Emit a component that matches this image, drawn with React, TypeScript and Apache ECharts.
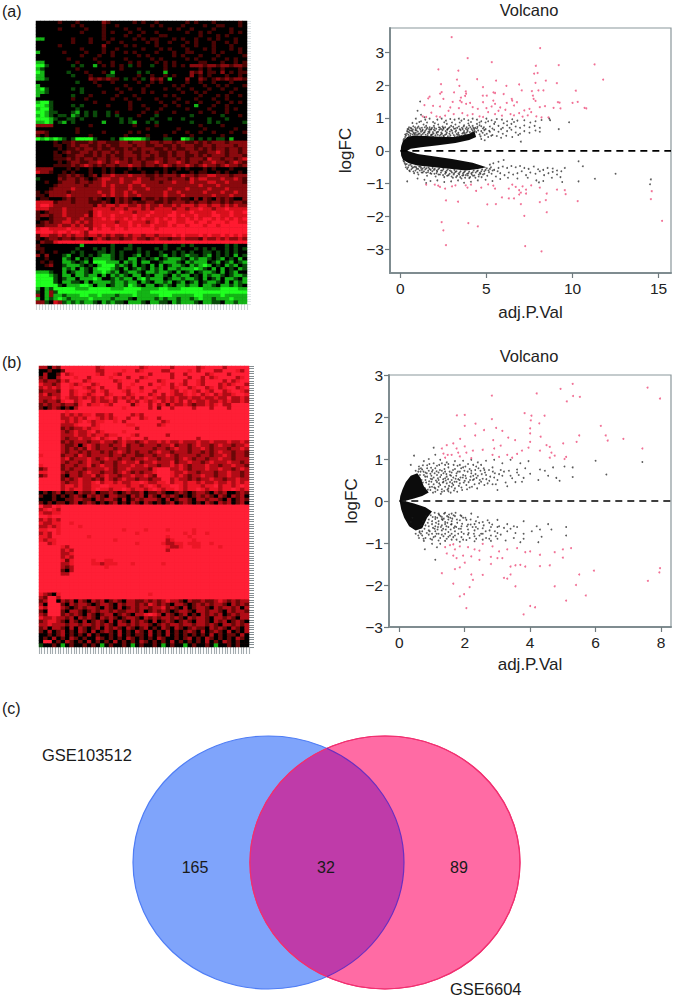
import React, { useEffect, useRef } from "react";
import * as echarts from "echarts";

const FONT = '"Liberation Sans", Arial, sans-serif';
const panelLabels = ["(a)", "(b)", "(c)"];
const volcanoTitle = "Volcano";
const xName = "adj.P.Val";
const yName = "logFC";
const vennNames = ["GSE103512", "GSE6604"];
const vennCounts = [165, 32, 89];

// heat levels: H G g . r R x X
const levelKeys = "HGg.rRxX";
const levelColorsA = ["#20ff20", "#14b416", "#0a4a0a", "#000000", "#4a0404", "#8a0a0e", "#d8101c", "#ff1a30"];
const levelColorsB = ["#20ff20", "#12b014", "#0a4a0a", "#000000", "#6a0808", "#b00c16", "#ec1626", "#ff1f36"];
const HEAT_COLS = 48;

const heatA = [
  ".....r...r.....Rr.....r.r..r......r.r...r.....r.",
  "........r.r....r..r.......r.r....r....r..rr...r.",
  ".....r.....r...r....r..r......r.r..r....r...r...",
  "..........r....r.r...r..r..r......r..r.r....r.r.",
  "...............r....r..r....rr.......r...r.r....",
  "GG......r...r..r.r....r.r.rr...r.r..r..r.r...r..",
  "........r...r...r..r.....r.r..r...r.r...r..r.r..",
  ".....r.........R....r.r....r.....r..r...r...r...",
  "..........r....r..r.....r...r.r...r...r.r...r.r.",
  "G.....r....r...r.r..r.r....r...r..rr....r.r...r.",
  "..........r...r..r.....r.r.....r.r...r...r.....r",
  ".......r.....r......r.....r.r.....r.r...r..r.r..",
  "GG.......r....r..r...r.r...r.r.r.....rr...r..r.r",
  "HHg.....g.g..G.r.r.r.g.r..g..r.r.r.RRRrRRrRRrRRr",
  "Gg.......r.........r.........r.......r.r..r...r.",
  "HG.....g...r...r.G.....g.g...G.....RrR.rr.R.r.rr",
  "GG......g...r...gg.....r..r..r.r...R.r.r...r..r.",
  "GGg.........RrRrRrr.g.r.g.RrR.G...R..Rr.rRrRrRRr",
  ".........g...r...r.....r..r.r.....r..r..r...r...",
  "G.............r.....r....r.....r.r....r..r.r...r",
  "GHg.....g.g.......r..r..r....r..r..r...r..r..r..",
  "GGg.......g....r...r....r.r......r..r.r.....r...",
  "G.......g...r.....r...r......r.r.....r...r.r..r.",
  "........r..r.....r..r..r...r....r...r...r..r....",
  "GHHg.........r.......r......r..r..r..r...r..r.r.",
  "HHGg....g.g.....r....r..r....r..r...G...r..r....",
  "GHHg.....g...........r...r..r.....r....r...r.r..",
  "HHGgg...gG.g.g..g.r.....r..r...r.....r..r..r....",
  "GHGg.gg.Gg.g.g..g.g....r...g.......g......g...r.",
  "HHHGg..gg.g........g.g....g...g..g.....g...g....",
  "GGHG.gG.g......G...g.gG..g.g.......g...g.g.....g",
  "RRRR........r.........r....r.........r....r.....",
  ".........r...............r......r.....r......r..",
  "RRr......r.....r.....r.r.......r..r..r..r...r..r",
  "r.r.........r.......r....r...r.....r......r.....",
  "HGHGHGg.gHHHHg...g.GHHHHGg...gg..HGg.g.g.gg.G...",
  "....r.rrRrrrRrRRrrrRRrRRRrRRrRRrRRrrRrRrRRRrRRRR",
  "....rr.rRrRRrrRrRrrRRRrRRrrRRrrRrRRRrrRRrRRRRrRR",
  ".....r.rrRrRRrRrrRrrRrRrRRRrrRrRrrRRrRrRrRRrRRrR",
  "....r.rRrrRRrRrRRrRrRRrrRrRRrrRrRRrRRrrRRxRrRRrR",
  "....rr.rrRRrrRrRrRrrRRRrRRrRrrRrRRrrRrRrRRRrRRRr",
  "....rrrRrRrRRrRRrRRrRrRrRrrRRrRRrRrRRRrxRRrRRrRx",
  ".....r.rRRrrRRxRrRxRRrRRrRRxRrRRxRrRRrRRxRRrRxRr",
  "....rrrrRrRxRrRrRRrRRxRRrRRrRxRrRRxRrRxRRrRxRRrR",
  "RRRR...r.r..r..r.r...r.r.....r..r.r...r.r...r...",
  "xRRr..r.r...r..r.r..r...r..r.r.r...r.rr..r.r..r.",
  ".....rrRrRr.rR.RRxRRRxRRRrrRrRRRrxRRrRRxxRRRrRRR",
  "g....RrRRrRr.rRxxRRxRRRxRRrRRRrRRRrxRxxRRRxRRxRr",
  "..r..rRRRrRRrRRxRRRxRRxxRRRRrRRxRRRxRRRxxRRxRRRr",
  "....rRRRRRRrRRRxRxRRRxRRxRRRRRRRRRRRRxRRRxRRRRRR",
  "...rRRRRxRRRRRRRRxRRRxRRRxRRRRxRRRxRRRRxRRRxRRRR",
  "r.rRRRRrRRRRRRxRRxRRxRxRRRRRRxRRxRRRRRxRRRxRRxRR",
  "rr.RRRRxRRRRRRRxRxRRxRRxRRRRRxRRRxRRRRRRxRRRxRRR",
  ".rr...rRrRRRrRr.r.RrRr..RrrRrRrrRrr.R.Rr.RrRr..R",
  "xxxxrRRRrRRRrrrRr.RrRrRrrRRrrRrRRRrRrRRrRRrRrRRr",
  "xXXxRRRRRRRRRrxRxxRxxRRxRxRRxRRxRxxxRxxRxxRxRxRR",
  "xxxRRRxRRRRRRxxxxRxxRxxxRxRxxxxRxxRxxXxxRxxXxxxx",
  "r.rRRRxRRRRRrxXxxxxXxxRxxxXxxxxXxxxXxxxxXxxxXxxX",
  "rRRrRRxRRRRxrxXxxXxxxxXxxXxxxxXXxXxxXxxxXXxxXxxx",
  "r..rRRRxRRxRRxxXxXxxXxXxXxxXxXxXxxXxXxXXxXxXxXxX",
  ".rRrRRxxRxRxRxxxxxRxxXxxxRxXxxXXxxXXxXXxXXXxXXxx",
  "rrRRRxRRxRxRRxxXxxXxxXxXxxXxxxXxXXxXXXxXXxXXXXXX",
  "xXXxxxxXxxxXRXxXXxXXxXXXXXXxXXXXXXXXXXXXXXXXXXXX",
  "XXXXxXXxXXxRXXXXXXXXXXXXXXXXXXXXXXXXXXXXXXXXXXXX",
  "rxxRRxRxRxxRxxRxRxRRxRxxRxxRxxxXxXxxxXxXxxXxXxXx",
  "r.rRRrRRrRRr.RxRrRRrRRxRRrRxRRrRRxRRRrxRRxRxRRxR",
  ".RrrxXXXXXXXXXXXXXXXXXXXXXXXXXXXXXXXXXXXXXXXXXXX",
  "r.........G......g...g.......g...g.g.......g.g..",
  "rr.......g...g.g.g..gg.g...g.g..g...g.g.g..g.g.g",
  ".r..r...g.g...gg.g.g...g.g..g..g.g.g..gg.g.g.g..",
  "R.R...gG..g.g.gGGg.g..gG.g..gG.g.gGgg.gG.g.g.G.g",
  "..r...Gg.G.g.GGGGg.g.GG.g.gG.gGGGg.GgGGg.gG.g.G.",
  ".r.r..GGg.gG.HHHGGG.GgG.GG..gGGGg.GgGGG.gG.gG.gG",
  "..rR..gGGGg.g.GHHHgGg.G.g.G.G.gGGg.GgGHG.g.GgG.g",
  "......GgG.Gg.GHHHGg.G.gGg.GgG.GGgGGGHGg.G.G.g.Gg",
  "GGGg..G.gGGg.GGHGgG.gGGg.GGgGGg.G.gG.gGGg.G.gG..",
  "HHHGg.GG.GGgGG.G.GgGg.GG.g.GGg.GgGG.g.GgGGg.gGGg",
  "HHHHg.gGG.GGGHG..gGgGG.GHgGGG.gGGgGGg.G.gG.GGg.G",
  "HHHHg.GGgg.G.GGGGgGGgGG.Gg.GGgG.gG.gG.gGGg.G.GgG",
  "HHHHHg.GGGHHG.GG.gGGgHGg.GG.gGg.GGgGG.GGg.GGgGg.",
  "G.GgHHHHHGGGHHHHHGGGHHHHGGGGHHGGGHHHHHGGGGHHHHGG",
  "g.GRgHHHHHHHHHHHHHHHHHHGGGHHHHHHHHHHHHHHHHHHHHHH",
  "R.GRGGgGGGHHGGHGGGgGGGHGGGGGHHHGGGGGHHGGGGHGGGGG",
  "G.GgGHGgGGGGHGGGGgGGGg.GGGGgGgGGgGGgGHGGgGGGHGGG",
  "RRg.xRgGgGgGGg.GgGgg.GGGg.GGgg.GgGGGg.GGgg.GGgGG",
];

const heatB = [
  "RR.RrXXXXXXXXRxXXXXXXXXRxXXXXXRXXXXXRxXXXXRXXXXX",
  "..r..rXXXXXXXRRXXXXxXXRxXXXXRRXXXXxXRXXXRRXXXxRX",
  ".R..rXRxXXXXXxRXXxRXXXXXXRXXXXRXXRXXXXRxXXXRXXXX",
  "rR..RXXXxXXRXXXXxXXXRXXRxXXXXXRXXXRXXRXRxXXXXRxX",
  "RrRRrxRXXXRxXXXXXRxXXXRXXXXRxXXXXRXXxRXXXXRXRxXX",
  "xRRrRXXxRxXXRxXXXXRXXxXXXRXXxXRXxRXXxRXXXRxRxXXR",
  "RxRxRXXxXXxRxXRXXXRXxXXRXXXxXXRxXXRxXXRxXRxXXRxX",
  "rRRRrXXRxXXxRXxRXXXxRXXxXXRXXXxRXxXxRXxRXXRxXXxR",
  "RxrRRXXRxXxRxXXRxXXXRxXXXRxXRXxRRxXxXRxXRxRRxXXx",
  "RRRxRXxRRxRxRxRxXRxRxRXRxXxRRxRxRRxRRxRRxRRXRRxR",
  "RrRRrxXXRxXXRxRRxRXXRxRXxRxXRxRxRXRxRRxRRxRxRRxR",
  "rRrRRrRRrxXRxxXxRXXXXrxXXRXRxrxRRxRrRRxRxXRRXXXX",
  "r.rRr.r.RXXXXXXXXXXxXXXXXRXrXXRXXXXRXXXRXXXRXXXX",
  "XXXXXXxXXXXXXXXXXXXXXXXXXXXXXXXXXXXXXXXXXXXXXXXX",
  "XXXXXRxRxRxxXRRxRXXXXRxRXXXXXXXXXXXXXXXXXXXXXXXX",
  "XXXXXRRxRxRXXxRxRxXXRXXRxXXRXXXXXXXXXXXXXXXXXXXX",
  "XXXXXxRxRxXxRxxXXxXRXXXXXXXXRxXXXXXXXXXXXXXXXXXX",
  "XXXXXRRRxXXXRxXXXXXXxxXXXXXRxXXXXXXXXXXXXXXXXXXX",
  "XXXXXrRrRRxRxxXXXXXXXXRXXXXXXXXXXXXXXXXXXXXXXXXX",
  "XXXXXRrRxRRxXRxXXXXxXXXXXXXXXXXXXXXXXXXXXXXXXXXX",
  "XXXXXRRRxRRxRxxRxxXXXxRXXXXXXRXXXXXXXXXXXXXXXXXX",
  "XXXXXRrRRxRRxXRxXXRXxXXXRXXXXXXXXXXXRXXXXXXXXXXX",
  "XXXXXrRrRRRrRRxRRrRxRRrRxRRxRxRRxRRRxRRxRRRxRRxR",
  "XXXXXRrrR.RxRrRRrRRxrRRrRRRrRRxrRRrRxRRrRxRRrRRx",
  "XXXXXRrRrRrxRrRRRrRRrRRRRRrRRrRxRRrRRxRrRRRrRRxR",
  "XXXXXRrRRrRrRRrRrRxRrRrRRrRxRRrRRRrRRrRrRxRRrRRr",
  "xXXXXrRRrxRrRRRRrRRrRRrrRRrRRxRrRRRRrRRrRRxRrRRr",
  "XXXXXRxrRRRxRrRxRRrRRrRRxRRrRRRrRxRrRRrRRxRRrRRR",
  "XXXXXRrRRrRxRRrRRrRxRRxrRRxRRRxrRRxRRrRxRRRxRRrR",
  "xXXXXrRRrRRxrRxRRrRRRxRRxRRrRRxRxRrRRRxRRrRRxRRr",
  "rRXXXrRrRRrRRRRxRrRRxRRRRrxXXXRRxRrRRRxRRxRRrRxR",
  "xxXXXRrRRrRxRRrRRrRxRrRrRRxXXXxRRxRRrRRRrRRxRRrR",
  "rRXXXr.RRrRRxrRxRRrRRxRRxRrXXXxRxRrRRxRRrRRxRRrR",
  "XXXXXrRrRxRRrRrxRrRxRRrRRrRRXXRxRRrRrRRxRRrRRxRR",
  "XXXXXRrRRxRRxXRxxRxRRxxXxRRxxXRxxRxxRxRRxRRxRxRx",
  "XXXXXRxxRxRRxxXXxxxxRxxRxXxRxxXXxRxxxRxxXRxxRxXx",
  "XXXXXRxRxxRRxXxxRxxXxRxxRxXxRxxXxRxxXxRxxRxxXxRx",
  ".r.rR.rr.RrrR.rrRr.rRrrR.rrRr..rRr.rRRr.RrR..rRr",
  "r..r.r.rRr.RrRr.RRrr.RrR.Rr.RrRr.r.rRrRr.Rr.RrR.",
  "...r..rrRRrr.RrRRr.R.rRrRRRr.R.rRRr.RRrRRr.R.rRr",
  "r.r.rr.rR.rRr.r.rR.r.Rr.Rr.r.rR.rRr.r.Rr.RrR.rR.",
  "XRRXxXXXXXXXXXXXXXXXXXXXXXXXXXXXXXXXXXXXXXXXXXXX",
  "RxXxRXXXXXXXXXXXXXXXXXXXXXXXXXXXXXXXXXXXXXXXXXXX",
  "xRRxxXXXXXXXXXXXXXXXXXXXXXXXXXXXXXXXXXXXXXXXXXXX",
  "XXxXXXXXXXXXXXXXXXXXXXXXXXXXXXXXXXXXXXXXXXXXXXXX",
  "RxRxRXXXXXXXXXXXXXXXXXXXXXXXXXXXXXXXXXXXXXXXXXXX",
  "xRRxxXXxXXXXXXXXXXXXXXXXXXXXXXXXXXXXXXXXXXXXXXXX",
  "RRxRxXXXXxXXXXXXXXXXXXXXXXXXXXXXXXXXXXXXXXXXXXXX",
  "xxXXxXXXXXXXXXXXXXXxXXXXxXXXXxXXXXXxXXXXXXXXXXXX",
  "RxRXxXXXXXXXXXXXXXXXXXxXXXXXXXXXXxXxXXxXXXXXXXXX",
  "xxRXXXXXXXXxXXXXXXXXXXXXXXXXXxXXXXxXXXXXXXXXXXXX",
  "xRxxXXXXXXXXXXXXXxXXXXXXXXXXXRxXXXXxXXXXXXXXXXXX",
  "XXRxXXXXXXXXXXXXXXXXXXxXXXXXxRRxxXxxxXXxXXXXXXXX",
  "XXXXXxRXXXXXXXXXXXXXXXXXXXXXXxRRxXXxxXXXXxXXXXXX",
  "XXXXXRxRXXXXXXXXXXXXXXXXXXXXXRXXXXXXXXXXXXXXXXXX",
  "XXXXXRRxXXXXXXXXXXXXXXXXXXXXXXXXXXXXXXXXXXXXXXXX",
  "XXXXXRxRXXXXXXXXXXXXXXXXXXXXXXXXXXXXXXXXXXXXXXXX",
  "XXXXXxrxXXXXxXXxxXXXXXXXXXXXXXXXXXXXXXXXXXXXXXXX",
  "XXXXXRRxXXXXxxRxxxXXXxXXXXXXxXXXXXXXXXXXXXXXXXXX",
  "XXXXXRrRXXXXXXXxXXXXXXXXXXXXXXXXXXXXXXXXXXXXXXXX",
  "XXXXXr.RXXXXXXXXXXXXXXXXXXXXXXXXXXXXXXXXXXXXXXXX",
  "XXXXXRRXXXXXXXXXXXXXXXXXXXXXXXXXXXXXXXXXXXXXXXXX",
  "XXXXXXXXXXXXXXXXXXXXXXXXXXXXXXXXXXXXXXXXXXXXXXXX",
  "XXXXXXXXXXXXXXXXXXXXXXXXXXXXXXXXXXXXXXXXXXXXXXXX",
  "XXXXXXXXXXXXXXXXXXXXXXXXXXXXXXXXXXXXXXXXXXXXXXXX",
  "XXXXXXXXXXXXXXXXXXXXXXXXXXXXXXXXXXXXXXXXXXXXXXXX",
  "XXXXXXXXXXXXXXXXXXXXXXXXXXXXXXXXXXXXXXXXXXXXXXXX",
  "xRr.xXXXXXXXXXXXXXXXXXXXXxXXXXXXXXXXXXXXXXXXXXXX",
  "RrXXRXXXXXXXXXXXXXXXXXXXXXXXXXXXXXXXXXXXXXXXXXXX",
  "rRXX.RrR.Rr.RrR.rRr.RRrrRrRrRxRRr.RrrRrrRxRrRrRR",
  "R.XXXr.RrRRr.rRRr.RrRRrRrxRrRr.RRr.rRrRrRRr.RrRr",
  "xRXXXRr.rRrRRr.Rr.R.rRrRRrRRxrRr.R.rRRr.RrRRrR.R",
  "r.XXXr.RRr.rRrRRrRrrRRrR.rRrRr.rRRr.RRrRRr.RrRRr",
  "RrXXXrRrRr.Rr.rRR.rRr.RRxXxR.Rr.rR.r.RrRrR.rRrRR",
  "xRRxRRrR.RrRr.RrRr.rRRr.RrRrRRrRr.RrRRr.RRrRr.RR",
  "rRxxRr.Rr.R.rRr.R.Rr.RrRr.R.rRr.rRr.RRr.RrR.rRr.",
  "RRxRRRrRRrRRrRrRr.RRrRrRRr.rRrRRrRRrRRrRr.RRrRrR",
  "rR.RRr.R.Rr.rR.RrRr.Rr.rR.r.Rr.Rr.rRrr.RrRr.Rr.R",
  "r.R.rR.r.Rr.R.rRr.R.r.Rr.R.r.R.r.rRr.R.rRr.R.r.R",
  "..r.rR.r.r.R.r..r.R.r.rr.R.r.R.r.r.r.r.R.r.rr.R.",
  ".r.R.r.Rr.r..Rr.r.r.Rr.r.r.Rr..r.rR.r.Rr.r.r.Rr.",
  ".XX.r.Rr.r.R.r.r.R.r.r.Rr.r.r.R.r.r.r.R.r.Rr.r..",
  "g..r.G.r..r.r.G.r..r.G.r..r.G.r..G.r..r.G..r.r..",
];

const sampleTicksA = Array.from("abcdefghijklmnopqrstuvwxyzabcdefghijklmnopqrstuvwxyzabcdefghijklmnopqr");
const sampleTicksB = Array.from("abcdefghijklmnopqrstuvwxyzabcdefghijklmnopqrstuvwxyzabcdefghijklmnopqrstuvwxyz");
const geneTicks = Array.from("abcdefghijklmnopqrstuvwxyzabcdefghijklmnopqrstuvwxyzabcdefghijklmnopqrstuvwxyzabcdefghijklmnopqrstuvwxyzabcdefghij");

const xTicksA = [0, 5, 10, 15];
const yTicksA = [-3, -2, -1, 0, 1, 2, 3];
const xTicksB = [0, 2, 4, 6, 8];
const yTicksB = [-3, -2, -1, 0, 1, 2, 3];

const coreUpA = [[0.02,0],[0.05,0.15],[0.15,0.3],[0.4,0.42],[0.8,0.47],[1.5,0.45],[2.5,0.42],[3.2,0.42],[4,0.52],[4.3,0.6],[4.4,0.42],[4,0.33],[3.2,0.24],[2.2,0.17],[1.2,0.11],[0.6,0.06],[0.4,0]];
const coreDownA = [[0.02,0],[0.05,-0.15],[0.15,-0.27],[0.5,-0.38],[1,-0.45],[2,-0.5],[3,-0.55],[3.8,-0.6],[4.5,-0.55],[5,-0.5],[4.2,-0.36],[3,-0.25],[2,-0.17],[1,-0.1],[0.4,0]];
const coreUpB = [[0.01,0],[0.03,0.12],[0.1,0.28],[0.2,0.45],[0.35,0.6],[0.55,0.66],[0.65,0.55],[0.75,0.35],[0.9,0.2],[0.7,0.12],[0.45,0.06],[0.25,0.02]];
const coreDownB = [[0.01,0],[0.06,-0.2],[0.15,-0.4],[0.3,-0.6],[0.5,-0.7],[0.7,-0.65],[0.85,-0.4],[1,-0.25],[0.8,-0.15],[0.45,-0.06],[0.25,-0.02]];

const redA = [[2.98,3.46],[8.12,3.13],[3.91,2.82],[5.31,2.7],[7.87,2.59],[9.2,2.61],[11.28,2.63],[2.21,2.48],[3.37,2.44],[7.77,2.35],[7.97,2.37],[11.78,2.17],[3.29,2.17],[4.46,2.18],[5.56,2.14],[8.45,2.14],[2.36,2.03],[6.9,2.02],[7.85,2.07],[9.09,2.06],[3.43,1.98],[6.16,1.98],[4.8,1.94],[10.19,1.83],[7.05,1.84],[7.64,1.82],[8.02,1.84],[8.31,1.84],[2.4,1.79],[2.31,1.74],[3.12,1.78],[3.8,1.81],[3.82,1.74],[3.76,1.67],[3.52,1.62],[5.41,1.78],[5.5,1.76],[6,1.73],[5.02,1.68],[4.79,1.68],[1.7,1.65],[1.62,1.6],[2.5,1.58],[3.47,1.53],[6.47,1.58],[6.5,1.53],[7.7,1.68],[7.74,1.58],[7.85,1.52],[9.15,1.48],[9.25,1.47],[10,1.46],[10.3,1.49],[3.04,1.49],[3.56,1.48],[3.82,1.43],[4.05,1.46],[4.8,1.48],[5.4,1.53],[5.5,1.43],[6.18,1.46],[6.77,1.48],[1.4,1.39],[1.9,1.37],[2.3,1.35],[2.9,1.32],[3.4,1.3],[4.2,1.33],[4.5,1.28],[5,1.3],[5.3,1.35],[5.8,1.32],[6.1,1.25],[6.6,1.38],[7.2,1.23],[7.5,1.28],[8.1,1.33],[8.4,1.36],[8.9,1.31],[9.3,1.29],[10.7,1.31],[10.8,1.29],[1.3,1.05],[1.5,1.03],[1.8,1.16],[2.1,1.05],[2.3,1.03],[2.6,1.07],[2.8,1.22],[3.1,1.12],[3.6,1.15],[3.9,1.08],[4.2,1.12],[4.6,1.05],[4.8,1.03],[5.1,1.18],[5.5,1.12],[5.7,1.22],[5.9,1.07],[6.4,1.12],[6.6,1.08],[6.9,1.15],[7.1,1.04],[7.4,1.08],[7.6,1.18],[7.9,1.05],[8.2,1.02],[8.6,1.02],[1.5,-1.03],[2,-1.03],[2.2,-1.06],[2.3,-1.1],[2.6,-1.15],[3,-1.08],[3.2,-1.05],[3.8,-1.05],[3.9,-1.12],[4.1,-1.03],[4.4,-1.22],[4.7,-1.12],[5.1,-1.02],[5.4,-1.06],[5.5,-1.15],[6.3,-1.15],[6.5,-1.03],[6.7,-1.1],[6.9,-1.2],[7.1,-1.08],[7.3,-1.18],[7.6,-1.05],[7,-1.27],[5.9,-1.42],[6.3,-1.45],[6.6,-1.45],[6.9,-1.33],[7.3,-1.3],[8.1,-1.12],[8.5,-1.3],[9.1,-1.18],[9.55,-1.2],[9.6,-1.32],[8.1,-1.56],[8.45,-1.5],[10.3,-1.53],[14.6,-1.23],[14.55,-1.47],[2.65,-1.51],[3.35,-1.55],[5.05,-1.63],[5.55,-1.62],[7,-1.62],[8.5,-1.87],[7.2,-1.98],[2.4,-2.17],[3.95,-2.2],[4.5,-2.3],[2.5,-2.42],[2.65,-2.87],[7.25,-2.9],[8.2,-3.06],[15.2,-2.13]];

const blackA = [[1.15,1.5],[1,1.22],[1.2,1.1],[1.4,1.02],[0.9,0.98],[0.7,0.85],[0.95,0.83],[1.2,0.9],[1.45,0.95],[1.7,0.98],[1.9,0.88],[2.15,0.95],[2.4,0.98],[2.65,0.92],[2.9,0.97],[3.15,0.95],[3.4,0.98],[3.7,0.97],[3.95,0.93],[4.2,0.98],[4.45,0.95],[4.7,0.9],[5,0.98],[5.3,0.93],[5.6,0.97],[5.9,0.95],[6.2,0.9],[6.5,0.96],[6.8,0.92],[7.2,0.93],[7.55,0.86],[7.85,0.9],[8.2,0.94],[8.65,0.98],[8.7,0.93],[9.8,0.87],[9.2,0.66],[0.5,0.72],[0.65,0.68],[0.85,0.72],[1.05,0.74],[1.25,0.7],[1.5,0.76],[1.7,0.72],[1.95,0.76],[2.2,0.8],[2.45,0.74],[2.7,0.82],[2.95,0.76],[3.2,0.8],[3.45,0.86],[3.7,0.78],[3.95,0.83],[4.2,0.76],[4.45,0.82],[4.7,0.75],[4.95,0.86],[5.2,0.74],[5.45,0.82],[5.7,0.76],[5.95,0.7],[6.2,0.78],[6.45,0.82],[6.7,0.74],[6.95,0.7],[7.2,0.77],[7.5,0.72],[7.8,0.76],[8.1,0.7],[0.45,0.58],[0.7,0.6],[0.95,0.62],[1.2,0.58],[1.45,0.62],[1.7,0.6],[1.95,0.64],[2.2,0.58],[2.45,0.63],[2.7,0.56],[2.95,0.64],[3.2,0.58],[3.45,0.66],[3.7,0.6],[3.95,0.68],[4.2,0.62],[4.45,0.68],[4.7,0.6],[4.95,0.66],[5.2,0.58],[5.45,0.64],[5.7,0.58],[5.95,0.52],[6.2,0.6],[6.45,0.64],[6.7,0.56],[6.95,0.52],[7.2,0.6],[7.5,0.55],[7.85,0.62],[8.1,0.58],[0.6,0.52],[0.9,0.55],[1.3,0.51],[1.6,0.53],[1.85,0.5],[2.1,0.54],[2.35,0.5],[2.6,0.49],[2.85,0.52],[3.1,0.48],[3.35,0.5],[3.6,0.53],[3.85,0.56],[4.6,0.5],[4.9,0.48],[5.1,0.42],[5.35,0.48],[5.6,0.45],[5.85,0.4],[6.15,0.46],[6.5,0.42],[6.85,0.48],[7,0.28],[1.1,0.88],[1.55,0.86],[2,0.84],[2.55,0.87],[3,0.86],[3.55,0.92],[4.1,0.88],[4.6,0.86],[5.1,0.9],[5.5,0.88],[6,0.84],[6.6,0.88],[0.75,0.75],[1.35,0.8],[1.8,0.66],[2.3,0.7],[2.8,0.69],[3.3,0.7],[3.85,0.72],[4.35,0.7],[4.85,0.72],[5.35,0.68],[5.85,0.66],[6.35,0.7],[0.28,0.5],[0.38,0.53],[0.55,0.62],[0.42,0.66],[0.85,0.5],[1.05,0.51],[1.8,0.49],[2.5,0.46],[4.7,0.36],[4.9,0.32],[0.4,-0.93],[0.55,-0.62],[0.8,-0.68],[1.05,-0.72],[1.3,-0.66],[1.5,-0.98],[1.55,-0.76],[1.8,-0.7],[2.05,-0.78],[2.3,-0.72],[2.55,-0.8],[2.8,-0.74],[3.05,-0.82],[3.3,-0.76],[3.55,-0.84],[3.8,-0.74],[4.05,-0.8],[4.3,-0.75],[4.55,-0.78],[4.8,-0.72],[5.05,-0.76],[5.3,-0.7],[5.55,-0.78],[5.8,-0.68],[6.05,-0.74],[6.3,-0.66],[6.55,-0.72],[6.8,-0.68],[7.05,-0.62],[7.3,-0.74],[7.55,-0.66],[7.85,-0.7],[8.1,-0.62],[8.35,-0.74],[8.6,-0.68],[8.85,-0.64],[9.1,-0.72],[9.35,-0.62],[9.55,-0.52],[0.7,-0.52],[0.95,-0.55],[1.2,-0.52],[1.45,-0.56],[1.7,-0.55],[1.95,-0.58],[2.2,-0.56],[2.45,-0.6],[2.7,-0.6],[2.95,-0.62],[3.2,-0.64],[3.45,-0.66],[3.7,-0.65],[3.95,-0.68],[4.2,-0.65],[4.45,-0.62],[4.7,-0.62],[4.95,-0.58],[5.2,-0.55],[5.45,-0.58],[5.7,-0.52],[5.95,-0.48],[6.2,-0.52],[6.45,-0.46],[6.7,-0.5],[6.95,-0.46],[7.2,-0.52],[7.45,-0.55],[7.75,-0.48],[8,-0.56],[8.3,-0.58],[8.55,-0.52],[8.85,-0.54],[9.1,-0.6],[1,-0.84],[1.4,-0.88],[1.75,-0.92],[2.15,-0.9],[2.55,-0.95],[2.95,-0.93],[3.35,-0.9],[3.7,-0.97],[4.1,-0.94],[4.5,-0.9],[4.95,-0.88],[5.35,-0.92],[5.8,-0.86],[6.25,-0.82],[6.8,-0.84],[7.4,-0.82],[7.9,-0.9],[8.05,-0.96],[8.3,-0.92],[8.8,-0.82],[9.3,-0.8],[9.4,-0.95],[10.35,-0.32],[10.6,-0.47],[10.35,-0.93],[11.3,-0.85],[12.5,-0.7],[14.55,-0.87],[14.5,-1.02],[1.25,-0.58],[1.6,-0.65],[2.1,-0.68],[2.6,-0.7],[3.1,-0.72],[3.6,-0.75],[4.15,-0.72],[4.65,-0.7],[5.15,-0.65],[5.65,-0.62],[0.3,-0.42],[0.45,-0.5],[0.6,-0.42],[0.85,-0.48],[1.1,-0.48],[5.2,-0.42],[5.4,-0.38],[5.7,-0.33],[6,-0.28]];

const denseA = [[0.33,0.47],[0.47,0.49],[0.58,0.46],[0.72,0.5],[0.81,0.53],[0.97,0.49],[1.12,0.53],[1.21,0.48],[1.36,0.55],[1.47,0.49],[1.58,0.47],[1.69,0.55],[1.78,0.47],[1.93,0.53],[2.04,0.47],[2.17,0.49],[2.29,0.46],[2.42,0.52],[2.53,0.44],[2.67,0.51],[2.76,0.44],[2.91,0.47],[3.03,0.54],[3.16,0.44],[3.27,0.51],[3.42,0.47],[3.54,0.46],[3.66,0.55],[3.78,0.5],[3.91,0.6],[4.04,0.57],[4.18,0.56],[4.29,0.66],[4.41,0.57],[4.52,0.62],[4.66,0.44],[4.78,0.55],[4.88,0.63],[5.02,0.52],[5.16,0.61],[5.28,0.46],[0.39,0.6],[0.52,0.56],[0.63,0.62],[0.77,0.56],[0.88,0.63],[1.02,0.58],[1.16,0.64],[1.27,0.61],[1.41,0.57],[1.52,0.66],[1.63,0.58],[1.76,0.65],[1.89,0.57],[2.01,0.62],[2.13,0.57],[2.26,0.64],[2.38,0.56],[2.51,0.67],[2.63,0.6],[2.74,0.66],[2.88,0.59],[3,0.61],[3.12,0.67],[3.24,0.62],[3.37,0.55],[3.5,0.63],[3.62,0.66],[3.73,0.54],[3.88,0.64],[4.07,0.72],[4.14,0.66],[4.32,0.6],[4.48,0.73],[0.48,0.66],[0.6,0.7],[0.73,0.65],[0.9,0.67],[1,0.7],[1.13,0.69],[1.3,0.64],[1.42,0.72],[1.56,0.7],[1.67,0.66],[1.84,0.7],[1.98,0.7],[2.08,0.67],[2.24,0.72],[2.36,0.66],[2.49,0.7],[2.6,0.72],[2.72,0.64],[2.86,0.72],[3.07,0.73],[3.2,0.68],[3.4,0.74],[3.58,0.7],[3.68,0.74],[3.8,0.67],[4,0.77],[4.24,0.7],[4.6,0.78],[4.8,0.68],[0.35,0.36],[0.5,0.43],[0.28,0.42],[0.22,0.37],[0.18,0.33],[1.9,0.43],[2.4,0.41],[2.85,0.41],[3.3,0.44],[3.7,0.47],[0.37,-0.4],[0.5,-0.44],[0.66,-0.47],[0.78,-0.5],[0.92,-0.5],[1.03,-0.55],[1.17,-0.48],[1.3,-0.54],[1.4,-0.5],[1.52,-0.53],[1.64,-0.51],[1.76,-0.58],[1.87,-0.52],[2,-0.55],[2.12,-0.6],[2.26,-0.53],[2.37,-0.6],[2.5,-0.55],[2.62,-0.64],[2.76,-0.56],[2.88,-0.6],[3,-0.66],[3.14,-0.58],[3.26,-0.62],[3.38,-0.69],[3.5,-0.62],[3.64,-0.68],[3.75,-0.62],[3.88,-0.7],[4,-0.63],[4.12,-0.68],[4.26,-0.6],[4.38,-0.66],[4.5,-0.6],[4.62,-0.67],[4.75,-0.57],[4.88,-0.62],[5.02,-0.53],[5.12,-0.6],[5.26,-0.5],[5.36,-0.6],[0.4,-0.55],[0.52,-0.6],[0.64,-0.56],[0.76,-0.63],[0.88,-0.6],[1,-0.66],[1.13,-0.6],[1.24,-0.66],[1.37,-0.62],[1.5,-0.67],[1.62,-0.6],[1.74,-0.68],[1.86,-0.62],[1.98,-0.7],[2.14,-0.63],[2.22,-0.72],[2.36,-0.66],[2.48,-0.74],[2.66,-0.66],[2.72,-0.76],[2.86,-0.7],[2.98,-0.78],[3.12,-0.68],[3.24,-0.8],[3.42,-0.72],[3.48,-0.8],[3.66,-0.74],[3.76,-0.82],[3.92,-0.75],[4,-0.83],[4.22,-0.76],[4.36,-0.82],[4.56,-0.72],[4.72,-0.8],[4.88,-0.7],[0.32,-0.5],[0.22,-0.33],[0.26,-0.38],[0.18,-0.3]];

const redB = [[2.83,2.51],[4.2,2.56],[4.93,2.67],[5.3,2.79],[5.12,2.37],[5.31,2.5],[5.52,2.48],[7.59,2.7],[7.97,2.44],[1.76,2.04],[2,2.05],[3.83,2.09],[4.04,2.03],[4.44,2.03],[2.83,1.95],[4.02,1.92],[4.28,1.85],[2.33,1.84],[2,1.79],[6.16,1.79],[4,1.73],[2.96,1.74],[2.59,1.69],[3.15,1.67],[4,1.61],[6.31,1.56],[5.5,1.56],[4.32,1.53],[2.32,1.56],[1.86,1.48],[3.33,1.51],[3.54,1.45],[6.85,1.48],[6.37,1.44],[5.42,1.41],[5.01,1.37],[1.65,1.37],[2.87,1.45],[4,1.41],[4.5,1.33],[4.6,1.29],[7.43,1.25],[1.3,1.25],[1.45,1.33],[1.75,1.25],[2,1.3],[2.25,1.2],[2.55,1.22],[2.9,1.25],[3.1,1.32],[3.75,1.2],[3.95,1.27],[4.3,1.2],[4.65,1.15],[4.75,1.08],[4.6,1.03],[5.1,1.05],[5.05,1],[1.35,1.13],[1.48,1.1],[1.6,1.1],[1.85,1.06],[2.05,1.15],[2.2,1.02],[2.85,1.1],[3.05,1.05],[3.3,1.1],[3.45,1.03],[3.6,1.12],[1.4,1.03],[1.8,1.15],[1.4,-1.1],[1.55,-1.05],[1.65,-1.03],[1.7,-1.15],[1.85,-1.08],[2.1,-1.1],[2.3,-1.15],[2.45,-1.18],[2.55,-1.02],[2.85,-1.08],[3.05,-1.2],[3.3,-1.15],[3.6,-1.12],[3.85,-1.22],[4,-1.2],[4.3,-1.28],[4.75,-1.22],[5,-1.15],[5.25,-1.12],[1.45,-1.25],[1.65,-1.3],[1.75,-1.36],[1.95,-1.3],[2.2,-1.32],[2.45,-1.4],[2.8,-1.33],[3,-1.36],[3.15,-1.36],[3.4,-1.56],[3.55,-1.53],[3.7,-1.52],[3.85,-1.56],[4.3,-1.55],[4.6,-1.53],[5,-1.35],[2,-1.47],[2.8,-1.5],[1.7,-1.62],[1.85,-1.58],[1.3,-1.72],[2.2,-1.75],[2.55,-1.76],[3.2,-1.83],[3.3,-1.85],[3.4,-1.75],[1.65,-1.97],[2.25,-1.88],[2.15,-2.05],[3.55,-2.03],[4.75,-2.03],[5.4,-2],[5.95,-1.66],[5.5,-1.75],[7.6,-1.9],[7.97,-1.6],[7.95,-1.7],[1.85,-2.27],[1.98,-2.22],[2.05,-2.55],[5.7,-2.25],[5.1,-2.37],[4,-2.5],[4.15,-2.53],[3.8,-2.7]];

const blackB = [[0.45,1.08],[1.05,1.27],[1.1,1.1],[0.9,1],[0.75,0.95],[0.35,0.86],[0.6,0.82],[0.85,0.85],[1.05,0.9],[1.25,0.98],[1.45,0.92],[1.7,0.95],[1.95,0.96],[2.2,0.98],[2.4,0.92],[2.65,0.96],[2.9,0.98],[3.15,0.9],[3.4,0.98],[3.7,0.9],[3.95,0.95],[4.3,0.75],[4.45,0.72],[4.7,0.8],[5.05,0.82],[5.3,0.8],[6,0.96],[7.43,0.93],[6.33,0.63],[0.5,0.72],[0.7,0.75],[0.9,0.72],[1.1,0.78],[1.3,0.72],[1.5,0.8],[1.7,0.76],[1.95,0.8],[2.15,0.76],[2.35,0.82],[2.6,0.74],[2.85,0.8],[3.1,0.74],[3.35,0.72],[3.6,0.75],[3.85,0.78],[4,0.65],[4.25,0.5],[4.55,0.6],[4.8,0.55],[4.9,0.48],[5.3,0.57],[0.75,0.62],[0.95,0.65],[1.15,0.62],[1.35,0.66],[1.55,0.62],[1.75,0.66],[1.95,0.62],[2.2,0.66],[2.4,0.6],[2.65,0.62],[2.9,0.56],[3.15,0.6],[3.4,0.6],[3.65,0.62],[3.8,0.55],[0.8,0.5],[1,0.52],[1.2,0.5],[1.4,0.54],[1.6,0.5],[1.8,0.52],[2,0.48],[2.25,0.5],[2.5,0.46],[2.75,0.48],[3,0.5],[3.25,0.44],[3.55,0.45],[0.9,0.4],[1.05,0.4],[1.25,0.38],[1.45,0.42],[1.65,0.38],[1.85,0.42],[2.05,0.38],[2.3,0.4],[2.6,0.38],[2.85,0.4],[3.3,0.35],[3,0.26],[1.1,0.3],[1.3,0.28],[1.5,0.3],[1.7,0.3],[1.9,0.32],[2.15,0.32],[0.65,0.7],[0.8,0.68],[1,0.7],[1.2,0.68],[1.4,0.7],[1.6,0.68],[1.85,0.7],[0.85,0.58],[1.05,0.56],[1.25,0.57],[1.45,0.58],[1.65,0.56],[0.85,0.78],[1.15,0.84],[1.4,0.86],[1.85,0.86],[2.1,0.88],[2.5,0.86],[0.98,0.46],[1.15,0.45],[1.35,0.46],[1.55,0.45],[1.75,0.46],[1,0.34],[1.2,0.34],[1.4,0.34],[1.6,0.34],[0.95,0.26],[1.1,0.22],[1.3,0.22],[1.5,0.23],[0.4,-0.4],[0.35,-0.5],[0.75,-0.95],[0.5,-0.78],[0.7,-0.82],[0.9,-0.8],[1.1,-0.84],[1.3,-0.8],[1.5,-0.85],[1.7,-0.82],[1.9,-0.86],[2.1,-0.8],[2.3,-0.84],[2.55,-0.78],[2.8,-0.82],[3,-0.76],[3.3,-0.72],[3.55,-0.76],[3.8,-0.78],[4.05,-0.72],[4.3,-0.68],[4.55,-0.55],[4.65,-0.68],[5.1,-0.62],[5.1,-0.82],[0.7,-0.72],[0.9,-0.7],[1.1,-0.72],[1.3,-0.7],[1.5,-0.74],[1.7,-0.72],[1.9,-0.74],[2.1,-0.68],[2.3,-0.7],[2.55,-0.65],[2.8,-0.62],[3.05,-0.6],[3.3,-0.55],[3.5,-0.6],[3.8,-0.48],[4.2,-0.6],[4.35,-0.85],[4.25,-0.98],[3.8,-0.9],[0.9,-0.6],[1.1,-0.6],[1.3,-0.58],[1.5,-0.62],[1.7,-0.6],[1.9,-0.6],[2.1,-0.56],[2.3,-0.55],[2.55,-0.5],[2.75,-0.52],[3,-0.45],[1,-0.48],[1.2,-0.48],[1.4,-0.5],[1.6,-0.48],[1.85,-0.46],[2.05,-0.45],[2.4,-0.38],[1.1,-0.38],[1.3,-0.38],[1.5,-0.38],[1.7,-0.36],[1.95,-0.4],[2.2,-0.3],[1.2,-0.3],[1.4,-0.28],[1.6,-0.3],[1,-0.92],[1.2,-0.94],[1.4,-0.95],[1.6,-0.92],[1.85,-0.97],[2.05,-0.93],[2.3,-0.96],[2.55,-0.92],[2.8,-0.95],[3,-0.9],[3.25,-0.94],[3.5,-0.88],[3.7,-0.98],[1.1,-1.4],[1.15,-1.1],[0.78,-1.15],[1,-1.02],[1.25,-1.02],[0.6,-0.88],[0.8,-0.88],[0.62,-0.75],[1,-0.78],[1.2,-0.78],[1.4,-0.78],[1.6,-0.78],[0.8,-0.58],[1,-0.55],[1.2,-0.55],[1.4,-0.55],[1.6,-0.55],[0.9,-0.44],[1.1,-0.43],[1.3,-0.43],[1.5,-0.44]];

const denseB = [[0.58,0.7],[0.63,0.62],[0.68,0.5],[0.72,0.44],[0.78,0.3],[0.82,0.44],[0.87,0.27],[0.93,0.33],[0.96,0.53],[1.03,0.2],[1.07,0.32],[1.12,0.49],[1.17,0.26],[1.22,0.42],[1.27,0.17],[1.33,0.44],[1.37,0.24],[1.42,0.49],[1.47,0.27],[1.52,0.36],[1.57,0.2],[1.62,0.42],[1.67,0.25],[1.72,0.53],[1.77,0.22],[1.82,0.36],[1.87,0.56],[1.92,0.26],[1.97,0.44],[2.02,0.6],[2.07,0.28],[2.12,0.45],[2.18,0.58],[2.22,0.34],[2.28,0.52],[2.33,0.64],[2.38,0.3],[2.44,0.42],[2.48,0.72],[2.55,0.53],[2.62,0.68],[2.7,0.42],[2.78,0.58],[2.86,0.7],[2.95,0.4],[0.66,0.78],[0.74,0.7],[0.79,0.58],[0.84,0.66],[0.91,0.47],[0.98,0.6],[1.02,0.74],[1.08,0.66],[1.14,0.71],[1.18,0.54],[1.24,0.74],[1.28,0.62],[1.34,0.52],[1.38,0.76],[1.44,0.64],[1.49,0.52],[1.54,0.7],[1.58,0.6],[1.64,0.74],[1.69,0.46],[1.74,0.6],[1.79,0.7],[1.84,0.5],[1.89,0.78],[1.94,0.56],[1.99,0.72],[2.04,0.54],[2.09,0.7],[2.16,0.5],[2.2,0.72],[2.26,0.6],[2.32,0.74],[2.36,0.55],[2.42,0.78],[2.46,0.5],[2.52,0.64],[2.58,0.78],[2.66,0.52],[2.74,0.74],[2.92,0.66],[3.05,0.64],[3.2,0.7],[3.45,0.54],[3.6,0.68],[3.75,0.46],[0.6,0.76],[0.72,0.85],[0.92,0.88],[0.97,0.79],[1.22,0.86],[1.3,0.9],[1.5,0.88],[1.66,0.86],[1.78,0.84],[2.02,0.82],[2.26,0.86],[0.62,-0.72],[0.67,-0.58],[0.72,-0.48],[0.77,-0.66],[0.82,-0.36],[0.87,-0.52],[0.93,-0.72],[0.96,-0.34],[1.03,-0.64],[1.08,-0.28],[1.12,-0.52],[1.17,-0.68],[1.22,-0.33],[1.27,-0.62],[1.32,-0.45],[1.37,-0.3],[1.42,-0.68],[1.47,-0.52],[1.52,-0.32],[1.57,-0.68],[1.62,-0.42],[1.67,-0.64],[1.72,-0.28],[1.77,-0.52],[1.82,-0.66],[1.87,-0.34],[1.92,-0.54],[1.97,-0.78],[2.02,-0.4],[2.07,-0.6],[2.12,-0.76],[2.18,-0.44],[2.24,-0.62],[2.28,-0.78],[2.34,-0.48],[2.4,-0.66],[2.44,-0.52],[2.5,-0.78],[2.58,-0.58],[2.64,-0.72],[2.7,-0.46],[2.76,-0.7],[2.84,-0.56],[2.92,-0.72],[3,-0.62],[3.1,-0.8],[3.2,-0.64],[3.4,-0.66],[3.6,-0.62],[0.58,-0.82],[0.66,-0.78],[0.74,-0.9],[0.84,-0.76],[0.95,-0.9],[1.05,-0.86],[1.14,-0.78],[1.25,-0.88],[1.35,-0.84],[1.45,-0.9],[1.55,-0.82],[1.65,-0.86],[1.75,-0.92],[1.8,-0.78],[1.95,-0.92],[2.15,-0.88],[2.35,-0.9],[2.45,-0.82],[2.65,-0.88],[2.75,-0.9],[2.95,-0.84],[1.08,-0.66],[1.18,-0.62],[1.34,-0.66],[1.44,-0.6],[1.58,-0.56],[1.74,-0.62],[1.88,-0.66],[2.18,-0.56],[2.34,-0.62],[1.02,-0.38],[1.16,-0.4],[1.26,-0.36],[1.36,-0.42],[1.46,-0.36],[1.56,-0.4],[1.66,-0.34],[1.76,-0.44],[1.9,-0.36]];

const LEFT = { cx: 268.5, cy: 862.5, rx: 135.5, ry: 126.5 };
const RIGHT = { cx: 385, cy: 862.5, rx: 135, ry: 126.5 };

echarts.graphic.registerShape("vennLens", echarts.graphic.extendPath(
  "M326.75 748.3 A135.5 126.5 0 0 1 326.75 976.7 A135 126.5 0 0 1 326.75 748.3 Z", {}));
echarts.graphic.registerShape("vennEdge", echarts.graphic.extendPath(
  "M326.75 748.3 A135.5 126.5 0 0 1 326.75 976.7", {}));

function cells(rows: string[]) {
  const out: number[][] = [];
  rows.forEach((row, r) => {
    for (let c = 0; c < HEAT_COLS; c++) {
      const ch = row[c] ?? row[c % row.length];
      out.push([c, r, levelKeys.indexOf(ch)]);
    }
  });
  return out;
}

function heatAxes(gridIndex: number, samples: string[], tickColor: string, tickLen: number, geneColor: string, geneLen: number, rows: number) {
  const idx = (n: number) => Array.from({ length: n }, (_, i) => String(i));
  return {
    x: [
      { type: "category", gridIndex, data: idx(HEAT_COLS), show: false },
      { type: "category", gridIndex, data: samples, position: "bottom", axisLine: { show: false }, axisLabel: { show: false },
        axisTick: { show: true, interval: 0, length: tickLen, lineStyle: { color: tickColor, width: 1.1 } } },
    ],
    y: [
      { type: "category", gridIndex, data: idx(rows), inverse: true, show: false },
      { type: "category", gridIndex, data: geneTicks, position: "right", axisLine: { show: false }, axisLabel: { show: false },
        axisTick: { show: true, interval: 0, length: geneLen, lineStyle: { color: geneColor, width: 1 } } },
    ],
  };
}

function volcanoAxes(gridIndex: number, xMin: number, xMax: number, yMin: number, yMax: number, xt: number[], yt: number[], nameGap: number, yNameGap: number) {
  const tick = { show: true, length: 5, lineStyle: { color: "#6f7a7e", width: 1.2 } };
  const line = { show: true, onZero: false, lineStyle: { color: "#7f8c90", width: 2 } };
  const label = { show: true, fontFamily: FONT, fontSize: 15.5, color: "#222", hideOverlap: false };
  const nameStyle = { fontFamily: FONT, fontSize: 17, color: "#222" };
  return {
    x: {
      type: "value", gridIndex, min: xMin, max: xMax, name: xName, nameLocation: "middle", nameGap,
      nameTextStyle: nameStyle, splitLine: { show: false }, axisLine: line,
      axisTick: { ...tick, customValues: xt }, axisLabel: { ...label, margin: 7, customValues: xt },
    },
    y: {
      type: "value", gridIndex, min: yMin, max: yMax, name: yName, nameLocation: "middle", nameGap: yNameGap,
      nameTextStyle: nameStyle, splitLine: { show: false }, axisLine: line,
      axisTick: { ...tick, customValues: yt },
      axisLabel: { ...label, margin: 6, customValues: yt, formatter: (v: number) => (v < 0 ? "\u2212" + Math.abs(v) : String(v)) },
    },
  };
}

function areaSeries(points: number[][], fill: string, xAxisIndex: number, yAxisIndex: number) {
  return {
    type: "custom", xAxisIndex, yAxisIndex, data: points, silent: true, clip: true, encode: { x: 0, y: 1 },
    renderItem: (params: any, api: any) => {
      if (params.dataIndex !== 0) return null;
      return { type: "polygon", shape: { points: points.map((p) => api.coord(p)) }, style: { fill } };
    },
  };
}

function volcanoSeries(black: number[][], dense: number[][], red: number[][], core: number[][][], xAxisIndex: number, yAxisIndex: number, xEnd: number) {
  const dots = { color: "#1a1a1a", opacity: 0.72 };
  return [
    ...core.map((a) => areaSeries(a, "#0c0c0c", xAxisIndex, yAxisIndex)),
    { type: "scatter", xAxisIndex, yAxisIndex, data: black, symbolSize: 1.8, silent: true, itemStyle: dots },
    { type: "scatter", xAxisIndex, yAxisIndex, data: dense, symbolSize: 1.8, silent: true, itemStyle: dots },
    { type: "scatter", xAxisIndex, yAxisIndex, data: red, symbolSize: 2, silent: true, itemStyle: { color: "#f0608a", opacity: 0.9 } },
    { type: "line", xAxisIndex, yAxisIndex, data: [[0, 0], [xEnd, 0]], symbol: "none", silent: true, lineStyle: { color: "#000", width: 1.6, type: [7, 5] } },
  ];
}

export default function App() {
  const ref = useRef<HTMLDivElement>(null);
  useEffect(() => {
    document.body.style.margin = "0";
    const chart = echarts.init(ref.current!, undefined, { renderer: "svg" });
    const hA = heatAxes(0, sampleTicksA, "#cfd5d8", 6, "#dfe5e8", 4, heatA.length);
    const hB = heatAxes(2, sampleTicksB, "#a4acb0", 7, "#858e92", 5, heatB.length);
    const vA = volcanoAxes(1, -0.6, 15.72, -3.72, 3.74, xTicksA, yTicksA, 31, 36);
    const vB = volcanoAxes(3, -0.315, 8.306, -3, 3, xTicksB, yTicksB, 29, 29);
    const border = { show: true, borderColor: "#8a979b", borderWidth: 1.2, backgroundColor: "transparent" };
    const title = (top: number) => ({ text: volcanoTitle, left: 529, top, padding: 0, textAlign: "center", textStyle: { fontFamily: FONT, fontSize: 16.5, fontWeight: "normal", color: "#222" } });
    const txt = (t: string, x: number, y: number, size: number, align = "left") => ({
      type: "text", x, y, silent: true, style: { text: t, fontFamily: FONT, fontSize: size, fill: "#1a1a1a", align, verticalAlign: "middle" },
    });
    chart.setOption({
      animation: false,
      backgroundColor: "#fff",
      title: [title(1), title(347)],
      grid: [
        { left: 36, top: 21, width: 211, height: 283, show: true, borderWidth: 0, backgroundColor: "#120000" },
        { left: 390, top: 28, width: 281, height: 245, ...border },
        { left: 39, top: 366, width: 210, height: 281, show: true, borderWidth: 0, backgroundColor: "#e01424" },
        { left: 389, top: 375, width: 282, height: 252, ...border },
      ],
      xAxis: [...hA.x, vA.x, ...hB.x, vB.x],
      yAxis: [...hA.y, vA.y, ...hB.y, vB.y],
      visualMap: [
        { type: "continuous", show: false, seriesIndex: 0, dimension: 2, min: 0, max: 7, inRange: { color: levelColorsA } },
        { type: "continuous", show: false, seriesIndex: 1, dimension: 2, min: 0, max: 7, inRange: { color: levelColorsB } },
      ],
      series: [
        { type: "heatmap", xAxisIndex: 0, yAxisIndex: 0, data: cells(heatA), silent: true, progressive: 0 },
        { type: "heatmap", xAxisIndex: 3, yAxisIndex: 3, data: cells(heatB), silent: true, progressive: 0 },
        ...volcanoSeries(blackA, denseA, redA, [coreUpA, coreDownA], 2, 2, 15.72),
        ...volcanoSeries(blackB, denseB, redB, [coreUpB, coreDownB], 5, 5, 8.306),
      ],
      graphic: [
        txt(panelLabels[0], 2, 11, 16),
        txt(panelLabels[1], 2, 362, 16),
        txt(panelLabels[2], 2, 708, 16),
        { type: "ellipse", silent: true, shape: LEFT, style: { fill: "#7fa4fb", stroke: "#4f7df5", lineWidth: 1.2 } },
        { type: "ellipse", silent: true, shape: RIGHT, style: { fill: "#ff6ba4", stroke: "#f5357a", lineWidth: 1.2 } },
        { type: "vennLens", silent: true, style: { fill: "#bf3ba9" } },
        { type: "ellipse", silent: true, shape: RIGHT, style: { fill: "none", stroke: "#f0306f", lineWidth: 1.2 } },
        { type: "vennEdge", silent: true, style: { fill: "none", stroke: "#6a2fc0", lineWidth: 1.2 } },
        txt(vennNames[0], 42, 755, 16.5),
        txt(vennNames[1], 450, 989, 16.5),
        txt(String(vennCounts[0]), 195, 867, 16, "center"),
        txt(String(vennCounts[1]), 326, 867, 16, "center"),
        txt(String(vennCounts[2]), 459, 867, 16, "center"),
      ],
    });
    return () => chart.dispose();
  }, []);
  return <div ref={ref} style={{ position: "absolute", left: 0, top: 0, width: 673, height: 999 }} />;
}
